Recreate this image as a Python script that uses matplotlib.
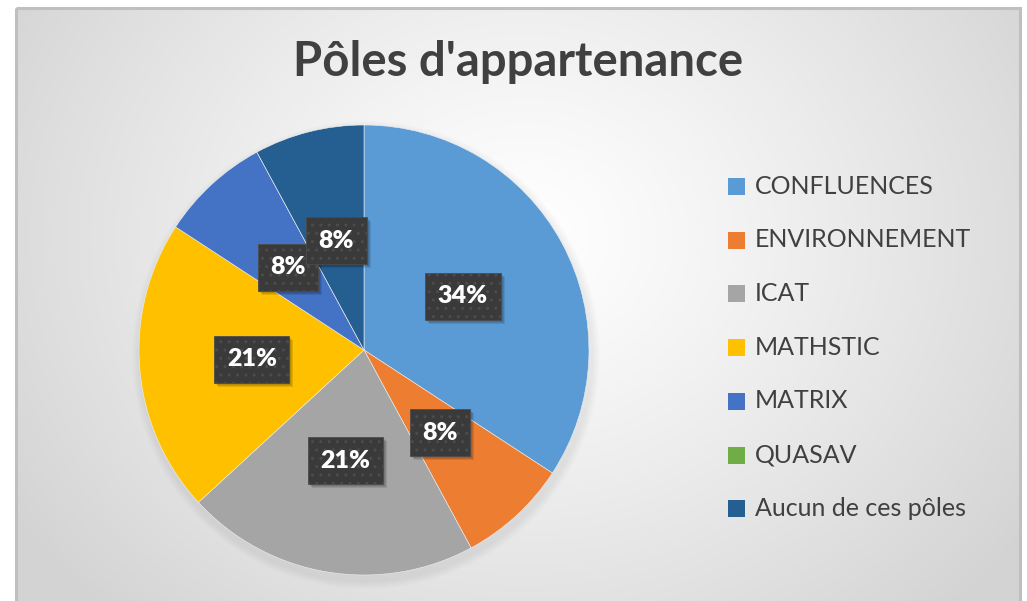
import matplotlib
matplotlib.use("Agg")
import matplotlib.pyplot as plt
import matplotlib.patches as patches
import matplotlib.transforms as mtransforms
import numpy as np

# Data (counts read as percentages of 38 responses)
poles = ["CONFLUENCES", "ENVIRONNEMENT", "ICAT", "MATHSTIC", "MATRIX",
         "QUASAV", "Aucun de ces pôles"]
counts = [13, 3, 8, 8, 3, 0, 3]
colors = ["#5B9BD5", "#ED7D31", "#A5A5A5", "#FFC000", "#4472C4",
          "#70AD47", "#255E91"]
title = "Pôles d'appartenance"

W, H = 1027, 601
fig = plt.figure(figsize=(W / 100, H / 100), dpi=100)
fig.patch.set_facecolor("white")

# Background: radial grey gradient inside a framed chart area
bg = fig.add_axes([0, 0, 1, 1])
bg.set_xlim(0, W)
bg.set_ylim(H, 0)
bg.axis("off")
yy, xx = np.mgrid[0:H, 0:W]
d = np.sqrt(((xx - 520) / 620) ** 2 + ((yy - 230) / 520) ** 2)
shade = 1.0 - 0.17 * np.clip(d, 0, 1) ** 1.2
img = np.dstack([shade, shade, shade])
bg.imshow(img, extent=(16, 1020, H + 5, 8), aspect="auto", zorder=0)
bg.add_patch(patches.Rectangle((16, 8), 1004, H + 10, fill=False,
                               edgecolor="#bfbfbf", linewidth=2.2, zorder=1))

# soft shadow around the pie
cx, cy, r = 364, 350, 225
for k in range(8):
    bg.add_patch(patches.Circle((cx + 2, cy + 5), r + 9 - k, facecolor="#a0a0a0",
                                edgecolor="none", alpha=0.02, zorder=1))

# Pie
ax = fig.add_axes([(cx - r) / W, (H - cy - r) / H, 2 * r / W, 2 * r / H])


def fmt(p):
    return f"{p:.0f}%" if p > 0.5 else ""


wedges, texts, autotexts = ax.pie(counts, colors=colors, startangle=90,
                                  counterclock=False, radius=1, autopct=fmt,
                                  pctdistance=0.5,
                                  wedgeprops=dict(linewidth=0.4, edgecolor="#f0f0f0"))
ax.set_xlim(-1, 1)
ax.set_ylim(-1, 1)
ax.set_aspect("auto")
ax.set_autoscale_on(False)
ax.axis("off")

for t in autotexts:
    if not t.get_text():
        continue
    t.set_color("white")
    t.set_fontweight("heavy")
    t.set_fontsize(18)
    t.set_fontfamily("Lato")
    t.set_zorder(6)
    t.set_bbox(dict(boxstyle="square,pad=0.5", facecolor="#3a3a3a",
                    edgecolor="#4c4c4c", hatch="..", linewidth=0.6))

# Title
fig.text(518 / W, 1 - 62 / H, title, ha="center", va="center", fontsize=34,
         fontweight="bold", family="Lato", color="#404040")

# Legend
y0, dy = 186, 53.7
for i, (name, col) in enumerate(zip(poles, colors)):
    yc = y0 + i * dy
    bg.add_patch(patches.Rectangle((728, yc - 8), 17, 17, facecolor=col,
                                   edgecolor="none", zorder=3))
    bg.text(755, yc, name, ha="left", va="center", fontsize=18,
            family="Lato", color="#404040", zorder=3)

# drop shadows behind the data label boxes
fig.canvas.draw()
rend = fig.canvas.get_renderer()
for t in autotexts:
    if not t.get_text():
        continue
    bb = t.get_bbox_patch().get_window_extent(rend)
    for k in range(3):
        sh = patches.Rectangle((bb.x0 + 2 + k, bb.y0 - 2 - k), bb.width, bb.height,
                               transform=mtransforms.IdentityTransform(),
                               facecolor="black", edgecolor="none", alpha=0.1,
                               zorder=5)
        ax.add_artist(sh)

fig.savefig("out.png", dpi=100, facecolor=fig.get_facecolor())
